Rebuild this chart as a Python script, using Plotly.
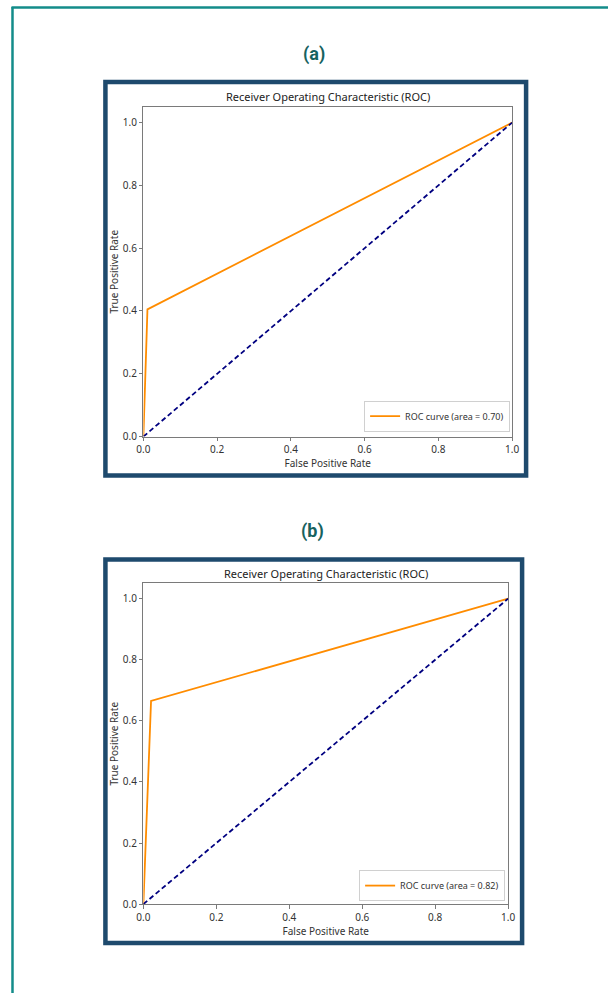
import plotly.graph_objects as go

# ---- data ----
fpr_a = [0.0, 0.011, 1.0]
tpr_a = [0.0, 0.405, 1.0]
auc_a = 0.70
fpr_b = [0.0, 0.021, 1.0]
tpr_b = [0.0, 0.665, 1.0]
auc_b = 0.82
chance_x = [0.0, 1.0]
chance_y = [0.0, 1.0]
tick_vals = [0.0, 0.2, 0.4, 0.6, 0.8, 1.0]
tick_text = ["0.0", "0.2", "0.4", "0.6", "0.8", "1.0"]
panel_labels = ["(a)", "(b)"]
plot_title = "Receiver Operating Characteristic (ROC)"
x_title = "False Positive Rate"
y_title = "True Positive Rate"

W, H = 615, 1000
# map target picture pixels to paper fractions (compensates the observed page offset/scale)
def px(x):
    return ((x - 7.5) / 0.978) / W
def py(y):
    return 1 - ((y + 1) / 0.994) / H

ORANGE = "#FF8C00"
NAVY = "#000080"
FONT = "Noto Sans"

fig = go.Figure()

fig.add_trace(go.Scatter(x=fpr_a, y=tpr_a, mode="lines", line=dict(color=ORANGE, width=1.8),
                         name=f"ROC curve (area = {auc_a:.2f})", xaxis="x", yaxis="y", legend="legend"))
fig.add_trace(go.Scatter(x=chance_x, y=chance_y, mode="lines", line=dict(color=NAVY, width=1.8, dash="5px,3px"),
                         showlegend=False, xaxis="x", yaxis="y"))
fig.add_trace(go.Scatter(x=fpr_b, y=tpr_b, mode="lines", line=dict(color=ORANGE, width=1.8),
                         name=f"ROC curve (area = {auc_b:.2f})", xaxis="x2", yaxis="y2", legend="legend2"))
fig.add_trace(go.Scatter(x=chance_x, y=chance_y, mode="lines", line=dict(color=NAVY, width=1.8, dash="5px,3px"),
                         showlegend=False, xaxis="x2", yaxis="y2"))

axis_common = dict(showline=True, mirror=True, linecolor="#7a7a7a", linewidth=1,
                   ticks="outside", ticklen=3.5, tickcolor="#7a7a7a", tickwidth=1,
                   showgrid=False, zeroline=False, tickvals=tick_vals, ticktext=tick_text,
                   tickfont=dict(family=FONT, size=10, color="#333333"))
title_font = dict(family=FONT, size=10, color="#333")

# panel geometry (target pixels)
pa = dict(l=144, r=513, t=106, b=436)
pb = dict(l=144, r=509, t=583, b=904)

fig.update_layout(
    width=W, height=H, margin=dict(l=0, r=0, t=0, b=0),
    paper_bgcolor="white", plot_bgcolor="white",
    xaxis=dict(domain=[px(pa["l"]), px(pa["r"])], range=[0, 1], anchor="y",
               title=dict(text=x_title, font=title_font, standoff=1), **axis_common),
    yaxis=dict(domain=[py(pa["b"]), py(pa["t"])], range=[0, 1.05], anchor="x",
               title=dict(text=y_title, font=title_font, standoff=2), **axis_common),
    xaxis2=dict(domain=[px(pb["l"]), px(pb["r"])], range=[0, 1], anchor="y2",
                title=dict(text=x_title, font=title_font, standoff=1), **axis_common),
    yaxis2=dict(domain=[py(pb["b"]), py(pb["t"])], range=[0, 1.05], anchor="x2",
                title=dict(text=y_title, font=title_font, standoff=2), **axis_common),
    legend=dict(x=px(511), xanchor="right", y=py(431), yanchor="bottom",
                bgcolor="white", bordercolor="#d0d0d0", borderwidth=1,
                font=dict(family=FONT, size=9, color="#333"), itemwidth=30),
    legend2=dict(x=px(506), xanchor="right", y=py(901), yanchor="bottom",
                 bgcolor="white", bordercolor="#d0d0d0", borderwidth=1,
                 font=dict(family=FONT, size=9, color="#333"), itemwidth=30),
)

shapes = []
# teal page frame
shapes.append(dict(type="line", xref="paper", yref="paper", x0=px(12), x1=1, y0=py(6.5), y1=py(6.5),
                   line=dict(color="#138c8a", width=2.5), layer="below"))
shapes.append(dict(type="line", xref="paper", yref="paper", x0=px(13), x1=px(13), y0=py(6), y1=0,
                   line=dict(color="#138c8a", width=2.5), layer="below"))
# navy boxes
for (l, r, t, b) in [(106, 527, 81, 475), (106, 523, 559, 943)]:
    shapes.append(dict(type="rect", xref="paper", yref="paper", x0=px(l), x1=px(r), y0=py(b), y1=py(t),
                       line=dict(color="#1e4a6d", width=4.5), fillcolor="white", layer="below"))
fig.update_layout(shapes=shapes)

def ann(text, x, y, font):
    return dict(text=text, x=px(x), y=py(y), xref="paper", yref="paper", showarrow=False,
                xanchor="center", yanchor="middle", font=font)

label_font = dict(family="Roboto", size=18, color="#17625f", weight="bold")
ptitle_font = dict(family=FONT, size=11, color="#222")
annotations = [
    ann(panel_labels[0], 315, 53, label_font),
    ann(panel_labels[1], 313, 531, label_font),
    ann(plot_title, (pa["l"] + pa["r"]) / 2, 96, ptitle_font),
    ann(plot_title, (pb["l"] + pb["r"]) / 2, 573, ptitle_font),
]
fig.update_layout(annotations=annotations)

fig.write_html("out.html", config={"displayModeBar": False},
               post_script="document.body.style.margin='0';document.body.style.overflow='hidden';")
